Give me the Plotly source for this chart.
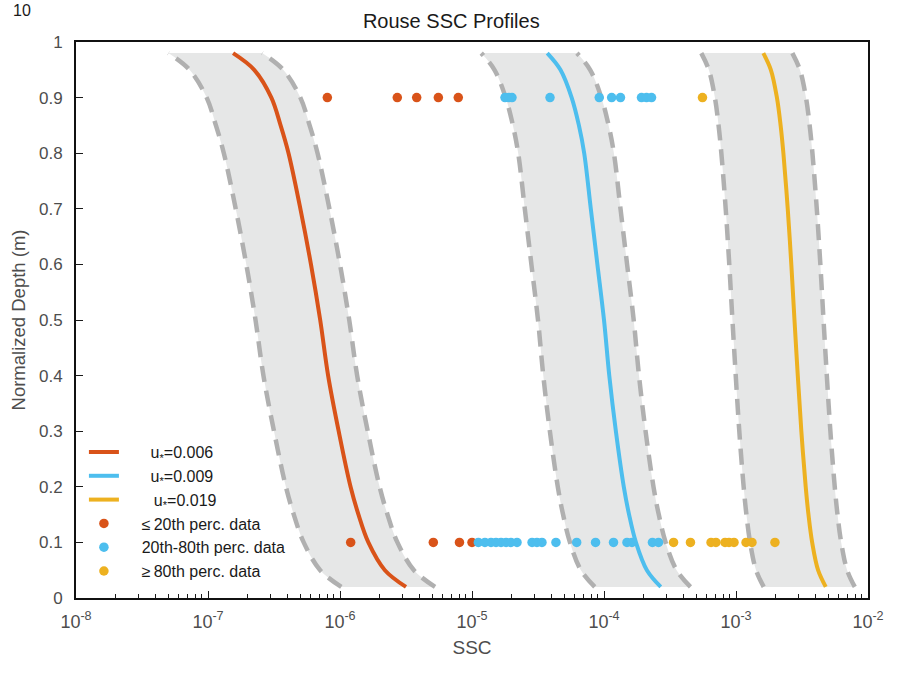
import numpy as np
import plotly.graph_objects as go

# Normalized depth levels at which each Rouse profile is sampled
depth = [0.02, 0.05, 0.10, 0.15, 0.20, 0.30, 0.40, 0.50, 0.60, 0.70, 0.80, 0.85, 0.90, 0.95, 0.98]

# Profiles, log10(SSC): centre curve plus lower / upper envelope
red_mid = [-5.50, -5.66, -5.785, -5.86, -5.92, -6.01, -6.09, -6.15, -6.22, -6.30, -6.39, -6.45, -6.52, -6.65, -6.81]
red_lo = [-5.99, -6.15, -6.275, -6.35, -6.41, -6.50, -6.58, -6.64, -6.71, -6.79, -6.88, -6.94, -7.01, -7.14, -7.30]
red_hi = [-5.28, -5.44, -5.565, -5.64, -5.70, -5.79, -5.87, -5.93, -6.00, -6.08, -6.17, -6.23, -6.30, -6.43, -6.59]

blue_mid = [-3.57, -3.675, -3.758, -3.81, -3.85, -3.91, -3.96, -4.00, -4.05, -4.10, -4.15, -4.19, -4.245, -4.33, -4.43]
blue_lo = [-4.07, -4.175, -4.258, -4.31, -4.35, -4.41, -4.46, -4.50, -4.55, -4.60, -4.65, -4.69, -4.745, -4.83, -4.93]
blue_hi = [-3.345, -3.45, -3.533, -3.585, -3.625, -3.685, -3.735, -3.775, -3.825, -3.875, -3.925, -3.965, -4.02, -4.105, -4.205]

yel_mid = [-2.32, -2.378, -2.423, -2.451, -2.472, -2.505, -2.532, -2.557, -2.581, -2.608, -2.641, -2.662, -2.69, -2.736, -2.793]
yel_lo = [-2.79, -2.848, -2.893, -2.921, -2.942, -2.975, -3.002, -3.027, -3.051, -3.078, -3.111, -3.132, -3.16, -3.206, -3.263]
yel_hi = [-2.10, -2.158, -2.203, -2.231, -2.252, -2.285, -2.312, -2.337, -2.361, -2.388, -2.421, -2.442, -2.47, -2.516, -2.573]

NB = "\u00a0"
profile_names = [NB * 6 + "u<sub>*</sub>=0.006", NB * 6 + "u<sub>*</sub>=0.009", NB * 6 + "\u2009u<sub>*</sub>=0.019"]

# Observations, log10(SSC), near the surface (0.9) and near the bed (0.1)
obs_depth_top = 0.9
obs_depth_bot = 0.1
low_top = [-6.096, -5.566, -5.419, -5.255, -5.104]
low_bot = [-5.919, -5.293, -5.095, -5.0]
mid_top = [-4.75, -4.72, -4.697, -4.409, -4.036, -3.942, -3.875, -3.716, -3.678, -3.64]
mid_bot = [-4.952, -4.902, -4.856, -4.818, -4.78, -4.742, -4.705, -4.659, -4.545, -4.508,
           -4.47, -4.364, -4.207, -4.064, -3.928, -3.826, -3.788, -3.633, -3.587]
high_top = [-3.254]
high_bot = [-3.473, -3.345, -3.189, -3.152, -3.083, -3.053, -3.015, -2.924, -2.879, -2.705]

obs_names = [NB * 4 + "\u2264\u200920th perc. data", NB * 4 + "20th-80th perc. data", NB * 4 + "\u2265\u200980th perc. data"]

colors = ["#D95319", "#4DBEEE", "#EDB120"]
band_fill = "#e6e7e7"
band_line = "#b0b0b0"

xt = [-8, -7, -6, -5, -4, -3, -2]
xt_text = ["10<sup>%d</sup>" % e for e in xt]


def p10(v):
    return [10 ** a for a in v]


fig = go.Figure()

profiles = [(red_mid, red_lo, red_hi), (blue_mid, blue_lo, blue_hi), (yel_mid, yel_lo, yel_hi)]

# shaded envelopes
for mid, lo, hi in profiles:
    fig.add_trace(go.Scatter(x=p10(lo), y=depth, mode="lines", line=dict(width=0, shape="spline"),
                             showlegend=False, hoverinfo="skip"))
    fig.add_trace(go.Scatter(x=p10(hi), y=depth, mode="lines", line=dict(width=0, shape="spline"),
                             fill="tonextx", fillcolor=band_fill, showlegend=False, hoverinfo="skip"))

# dashed envelope edges
for mid, lo, hi in profiles:
    for edge in (lo, hi):
        fig.add_trace(go.Scatter(x=p10(edge), y=depth, mode="lines",
                                 line=dict(width=4.5, color=band_line, dash="16px,9px", shape="spline"),
                                 showlegend=False, hoverinfo="skip"))

# Rouse profiles
for (mid, lo, hi), c, n in zip(profiles, colors, profile_names):
    fig.add_trace(go.Scatter(x=p10(mid), y=depth, mode="lines", name=n,
                             line=dict(width=4, color=c, shape="spline")))

# observations
obs = [(low_top, low_bot), (mid_top, mid_bot), (high_top, high_bot)]
for (top, bot), c, n in zip(obs, colors, obs_names):
    fig.add_trace(go.Scatter(x=p10(top + bot),
                             y=[obs_depth_top] * len(top) + [obs_depth_bot] * len(bot),
                             mode="markers", name=n,
                             marker=dict(size=9.5, color=c, line=dict(width=0))))

FONT = "Liberation Sans, Arial, sans-serif"
tick_font = dict(family=FONT, size=17, color="#4d4d4d")

fig.update_layout(
    width=899, height=676,
    margin=dict(l=76, r=31, t=42, b=78),
    paper_bgcolor="white", plot_bgcolor="white",
    font=dict(family=FONT),
    title=dict(text="Rouse SSC Profiles", x=0.502, xanchor="center", y=0.969, yanchor="middle",
               font=dict(size=20, color="#1a1a1a")),
    showlegend=True,
    legend=dict(x=0.010, y=0.293, xanchor="left", yanchor="top", bgcolor="rgba(0,0,0,0)",
                traceorder="normal", borderwidth=0, font=dict(size=16, color="#1a1a1a"),
                tracegroupgap=0),
    xaxis=dict(type="log", range=[-8, -2], tickvals=p10(xt), ticktext=xt_text,
               ticks="inside", ticklen=7, tickwidth=1, tickcolor="#1a1a1a", ticklabelstandoff=6,
               minor=dict(ticks="inside", ticklen=4, tickcolor="#1a1a1a", dtick="D1", showgrid=False),
               showline=True, linewidth=2, linecolor="#111111", mirror=True, showgrid=False,
               zeroline=False, tickfont=dict(family=FONT, size=18, color="#4d4d4d"),
               title=dict(text="SSC", font=dict(size=19, color="#4d4d4d"), standoff=10)),
    yaxis=dict(range=[0, 1], dtick=0.1, tick0=0, ticks="inside", ticklen=7, tickwidth=1,
               tickcolor="#1a1a1a", showline=True, linewidth=2, linecolor="#111111", mirror=True,
               ticklabelstandoff=8,
               showgrid=False, zeroline=False, tickfont=tick_font,
               title=dict(text="Normalized Depth (m)", font=dict(size=18.5, color="#4d4d4d"), standoff=8)),
)

# stray exponent label in the page corner
fig.add_annotation(text="10", xref="paper", yref="paper", x=-0.068, y=1.056,
                   xanchor="center", yanchor="middle", showarrow=False,
                   font=dict(size=16, color="#1a1a1a"))

fig.write_html("out.html")
